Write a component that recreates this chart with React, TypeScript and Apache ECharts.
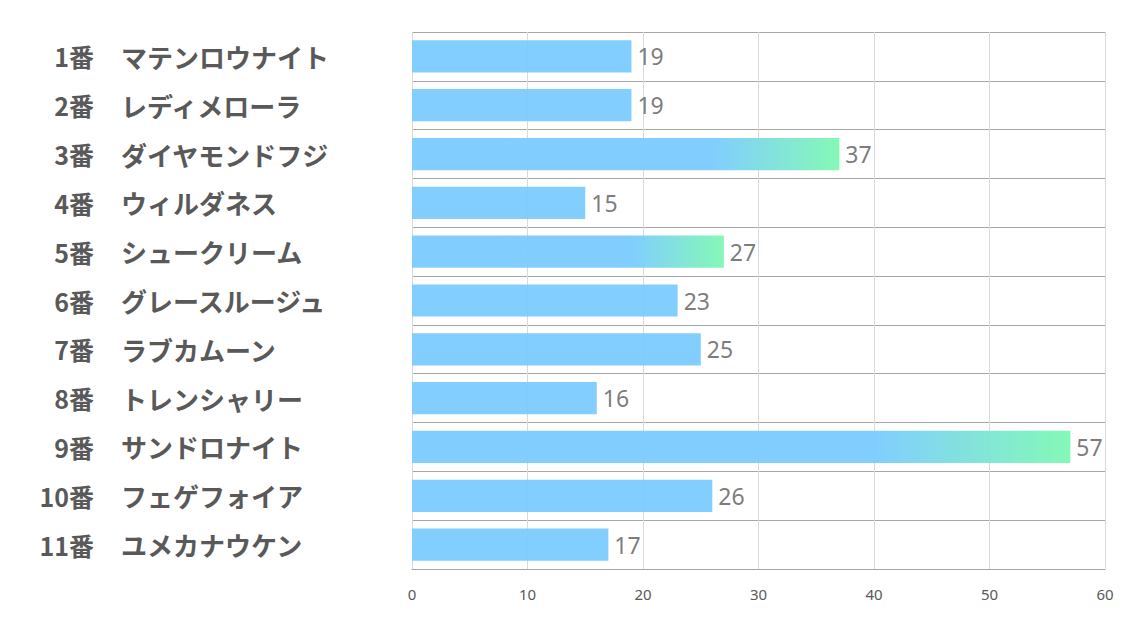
import React, { useEffect, useRef } from "react";
import * as echarts from "echarts";

const numbers = ["1番", "2番", "3番", "4番", "5番", "6番", "7番", "8番", "9番", "10番", "11番"];
const names = [
  "マテンロウナイト",
  "レディメローラ",
  "ダイヤモンドフジ",
  "ウィルダネス",
  "シュークリーム",
  "グレースルージュ",
  "ラブカムーン",
  "トレンシャリー",
  "サンドロナイト",
  "フェゲフォイア",
  "ユメカナウケン",
];
const values = [19, 19, 37, 15, 27, 23, 25, 16, 57, 26, 17];
const highlighted = [false, false, true, false, true, false, false, false, true, false, false];
const xTicks = { min: 0, max: 60, interval: 10 };

const BLUE = "#7acbff";
const GREEN = "#7ef8b3";
const LABEL_FONT = "Noto Sans CJK JP";

export default function App() {
  const ref = useRef<HTMLDivElement>(null);
  useEffect(() => {
    if (!ref.current) return;
    const chart = echarts.init(ref.current, undefined, { renderer: "svg" });
    chart.setOption({
      animation: false,
      grid: { left: 412, right: 29, top: 32, bottom: 54, containLabel: false },
      xAxis: {
        type: "value",
        min: xTicks.min,
        max: xTicks.max,
        interval: xTicks.interval,
        axisLine: { show: true, lineStyle: { color: "#a6a6a6", width: 1 } },
        axisTick: { show: false },
        axisLabel: { color: "#595959", fontSize: 15, margin: 17, fontFamily: "Noto Sans" },
        splitLine: { show: true, lineStyle: { color: "#d9d9d9", width: 1 } },
      },
      yAxis: [
        {
          type: "category",
          inverse: true,
          position: "left",
          data: names,
          axisLine: { show: false },
          axisTick: { show: false },
          splitLine: { show: true, lineStyle: { color: "#a6a6a6", width: 1 } },
          axisLabel: {
            align: "left",
            margin: 291,
            fontSize: 26,
            fontWeight: "bold",
            color: "#595959",
            fontFamily: LABEL_FONT,
            padding: [0, 0, 6, 0],
          },
        },
        {
          type: "category",
          inverse: true,
          position: "left",
          data: numbers,
          axisLine: { show: false },
          axisTick: { show: false },
          splitLine: { show: false },
          axisLabel: {
            align: "right",
            margin: 318,
            fontSize: 25,
            fontWeight: "bold",
            color: "#595959",
            fontFamily: LABEL_FONT,
            padding: [0, 0, 4, 0],
          },
        },
      ],
      series: [
        {
          type: "bar",
          yAxisIndex: 0,
          barWidth: "66%",
          data: values.map((v, i) => ({
            value: v,
            itemStyle: {
              color: highlighted[i]
                ? new echarts.graphic.LinearGradient(0, 0, 1, 0, [
                    { offset: 0, color: BLUE },
                    { offset: 0.7, color: BLUE },
                    { offset: 1, color: GREEN },
                  ])
                : BLUE,
              opacity: 0.95,
            },
          })),
          label: {
            show: true,
            position: "right",
            distance: 6,
            color: "#757575",
            fontSize: 23,
            fontFamily: "Noto Sans",
          },
        },
      ],
    });
    return () => chart.dispose();
  }, []);
  return <div ref={ref} style={{ width: 1134, height: 623, position: "absolute", left: 0, top: 0 }} />;
}
